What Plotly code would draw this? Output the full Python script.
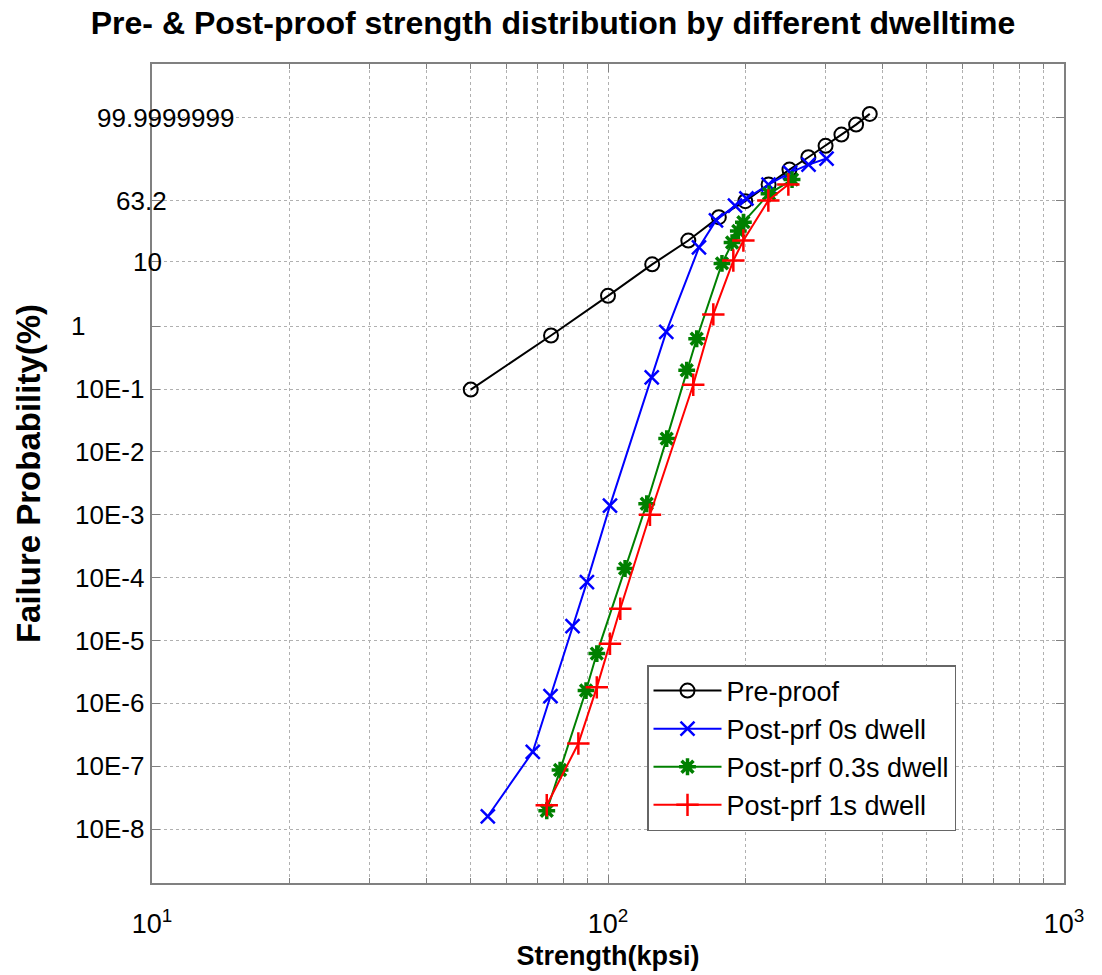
import numpy as np
import plotly.graph_objects as go

# ---------------- data (strength in kpsi, failure probability in %) ----------------
pre_x = [50, 75, 100, 125, 150, 175, 200, 225, 250, 275, 300, 325, 350, 375]
pre_p = [0.098, 0.71, 3.0, 9.2, 20.6, 41.9, 62.3, 83.4, 95.5, 99.24, 99.939,
         99.9986, 99.99999, 99.9999999957]

d0_x = [54.5, 68.4, 74.8, 83.6, 89.9, 101, 124.7, 134.2, 158.3, 172.5, 189.9,
        201.2, 224.9, 250.7, 275.3, 301.5]
d0_p = [1.6e-8, 1.7e-7, 1.3e-6, 1.7e-5, 8.5e-5, 1.4e-3, 0.154, 0.81, 16.4, 38.2,
        56.5, 65.9, 83.4, 93.8, 97.6, 99.05]

d03_x = [73.4, 78.5, 89.5, 94.5, 109.0, 121.6, 134.5, 148.8, 156.5, 177.8, 187.1,
         193.1, 198.1, 225.5, 253.3]
d03_p = [1.96e-8, 8.7e-8, 1.6e-6, 6.2e-6, 1.4e-4, 1.5e-3, 0.0163, 0.199, 0.63, 9.5,
         19.3, 27.9, 36.4, 72.1, 88.4]

d1_x = [73.4, 86.1, 94.5, 101, 106.4, 123.6, 153.8, 170.2, 188.3, 198.1, 224.7, 248.6]
d1_p = [2.4e-8, 2.3e-7, 1.8e-6, 8.9e-6, 3.2e-5, 1.0e-3, 0.117, 1.53, 10.5, 20.6,
        63.2, 83.4]

series_names = ["Pre-proof", "Post-prf 0s dwell", "Post-prf 0.3s dwell", "Post-prf 1s dwell"]

xtick_vals = [10, 100, 1000]
xtick_text = ["10<sup>1</sup>", "10<sup>2</sup>", "10<sup>3</sup>"]

ytick_p = [99.9999999, 63.2, 10, 1, 1e-1, 1e-2, 1e-3, 1e-4, 1e-5, 1e-6, 1e-7, 1e-8]
ytick_text = ["99.9999999", "63.2", "10", "1", "10E-1", "10E-2", "10E-3", "10E-4",
              "10E-5", "10E-6", "10E-7", "10E-8"]


def weibull(p):
    """Weibull probability scale: ln(-ln(1-F))."""
    f = np.asarray(p, dtype=float) / 100.0
    return np.log(-np.log1p(-f))


FONT = "Arial, 'Liberation Sans', sans-serif"

fig = go.Figure()

styles = [
    (pre_x, pre_p, "black", dict(symbol="circle-open", size=14, line=dict(width=2, color="black"))),
    (d0_x, d0_p, "#0000ff", dict(symbol="x-thin-open", size=14, line=dict(width=2.5, color="#0000ff"))),
    (d03_x, d03_p, "#008000", dict(symbol="asterisk-open", size=14, line=dict(width=3.5, color="#008000"))),
    (d1_x, d1_p, "#ff0000", dict(symbol="cross-thin-open", size=16, line=dict(width=2.5, color="#ff0000"))),
]

for i, (xs, ps, col, mk) in enumerate(styles):
    fig.add_trace(go.Scatter(
        x=xs, y=weibull(ps), mode="lines+markers", name=series_names[i],
        line=dict(color=col, width=2), marker=mk,
    ))

yvals = weibull(ytick_p)

# y tick labels (positioned like the original)
label_cx = {"99.9999999": 165, "63.2": 141.5, "10": 147, "1": 77.5}
L, R, T, B = 152, 38, 64, 92
W, H = 1102, 975
pw = W - L - R
ph = H - T - B
annotations = []
for yv, txt in zip(yvals, ytick_text):
    cx = label_cx.get(txt, 109)
    annotations.append(dict(
        x=(cx - L) / pw, xref="paper", y=yv, yref="y", text=txt, showarrow=False,
        xanchor="center", yanchor="middle", font=dict(family=FONT, size=26, color="black"),
    ))

grid = dict(showgrid=True, gridcolor="#b0b0b0", griddash="dot", gridwidth=1)

fig.update_layout(
    width=W, height=H,
    margin=dict(l=L, r=R, t=T, b=B, autoexpand=False),
    paper_bgcolor="white", plot_bgcolor="white",
    font=dict(family=FONT, color="black"),
    title=dict(
        text="Pre- & Post-proof strength distribution by different dwelltime",
        font=dict(family=FONT, size=32, weight="bold", color="black"),
        x=553 / W, xanchor="center", xref="container",
        y=1 - 23 / H, yanchor="middle", yref="container",
    ),
    xaxis=dict(
        type="log", range=[1, 3], tickmode="array", tickvals=xtick_vals, ticktext=xtick_text,
        showline=True, linecolor="#808080", linewidth=1.5, mirror="ticks",
        ticks="inside", ticklen=8, tickcolor="#808080",
        tickfont=dict(family=FONT, size=27, color="black"),
        ticklabelstandoff=16, automargin=False,
        minor=dict(dtick="D1", ticks="inside", ticklen=5, tickcolor="#808080", **grid),
        title=dict(text="Strength(kpsi)", font=dict(family=FONT, size=27, weight="bold"),
                   standoff=8),
        zeroline=False, **grid,
    ),
    yaxis=dict(
        range=[-25, 5], tickmode="array", tickvals=yvals, showticklabels=False,
        showline=True, linecolor="#808080", linewidth=1.5, mirror="ticks",
        ticks="inside", ticklen=8, tickcolor="#808080", automargin=False,
        title=dict(text="Failure Probability(%)", font=dict(family=FONT, size=33, weight="bold"),
                   standoff=100),
        zeroline=False, **grid,
    ),
    legend=dict(
        x=(647 - L) / pw, y=(H - B - 665) / ph, xanchor="left", yanchor="top",
        bgcolor="white", bordercolor="#666666", borderwidth=1.5,
        font=dict(family=FONT, size=27, color="black"),
        itemwidth=68,
    ),
    annotations=annotations,
    showlegend=True,
)

fig.write_html("out.html")
